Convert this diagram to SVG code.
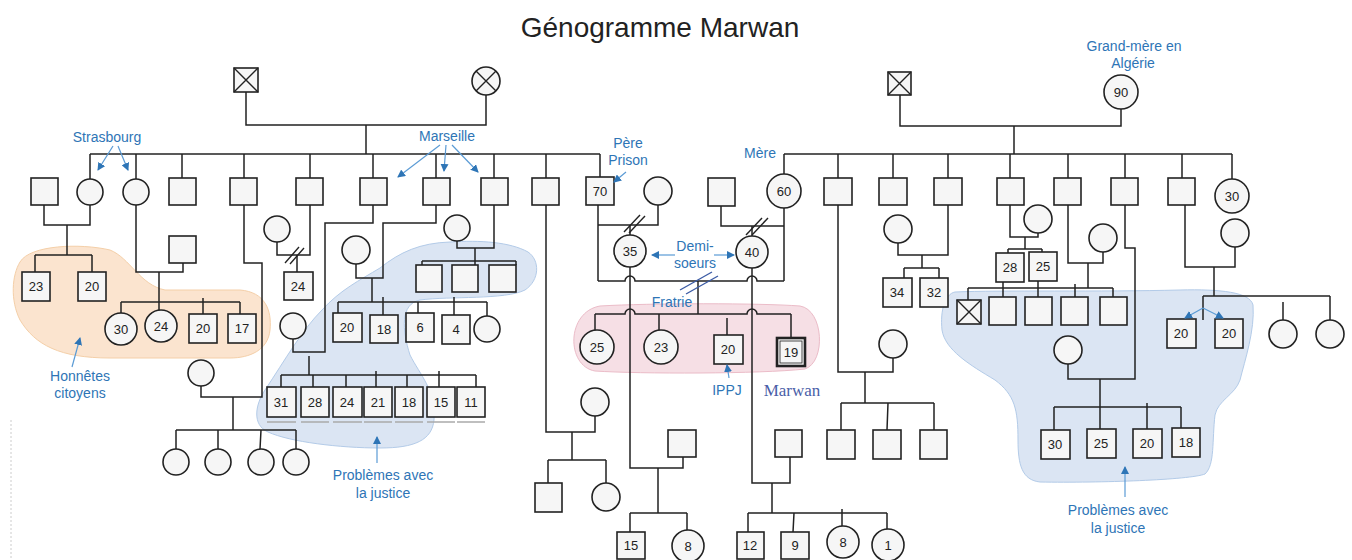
<svg xmlns="http://www.w3.org/2000/svg" width="1352" height="560" viewBox="0 0 1352 560">
<defs>
<style>
.ln{stroke:#222;stroke-width:1.5;fill:none}
.sq{fill:#f6f6f6;stroke:#222;stroke-width:1.6}
.ci{fill:#f6f6f6;stroke:#222;stroke-width:1.6}
.x{stroke:#222;stroke-width:1.4}
.n{font-family:"Liberation Sans",Arial,sans-serif;font-size:13px;fill:#222;text-anchor:middle}
.lb{font-family:"Liberation Sans",Arial,sans-serif;font-size:14px;fill:#2e75b6;text-anchor:middle}
.ar{stroke:#5b9bd5;stroke-width:1.2;fill:none;marker-end:url(#ah)}
.sl{stroke:#222;stroke-width:1.4}
.ul{stroke:#aaa;stroke-width:1.5}
</style>
<marker id="ah" viewBox="0 0 8 8" refX="7" refY="4" markerWidth="8" markerHeight="8" markerUnits="userSpaceOnUse" orient="auto">
<path d="M0,0 L8,4 L0,8 z" fill="#2e75b6"/>
</marker>
</defs>
<rect width="1352" height="560" fill="#ffffff"/>
<text x="660" y="37" font-family="Liberation Sans, Arial, sans-serif" font-size="28" fill="#222" text-anchor="middle">Génogramme Marwan</text>
<line x1="11" y1="420" x2="11" y2="560" stroke="#ccc" stroke-width="1" stroke-dasharray="2,2"/>

<g id="zones">
<path d="M20,262 C30,245 80,243 110,250 C130,258 140,285 165,290 L240,290 C265,292 272,310 270,330 C268,350 250,358 230,358 L110,358 C60,358 35,345 20,320 C10,300 12,275 20,262 Z" fill="#fbe4cf" stroke="#f4cfa8" stroke-width="1"/>
<path d="M380,268 C400,252 420,243 450,242 C480,240 510,242 528,252 C540,260 540,280 525,290 C505,300 450,296 420,300 C400,304 402,330 410,355 C420,375 436,390 434,420 C432,440 415,448 380,448 C340,448 290,442 268,432 C252,425 255,405 265,390 C285,360 302,330 322,310 C340,290 360,280 380,268 Z" fill="#dbe5f3" stroke="#b3cbe8" stroke-width="1"/>
<path d="M600,306 C650,303 760,303 800,306 C824,310 826,362 805,369 C760,374 640,374 595,371 C566,366 566,312 600,306 Z" fill="#f6dfe5" stroke="#ebbcc8" stroke-width="1"/>
<path d="M955,292 C1000,290 1100,292 1180,290 C1220,289 1250,292 1253,305 C1255,330 1245,360 1240,380 C1235,395 1218,400 1215,415 C1212,440 1215,465 1205,474 C1190,480 1100,483 1040,482 C1022,480 1018,465 1018,440 C1018,410 1015,395 995,380 C970,365 945,350 942,330 C940,310 945,294 955,292 Z" fill="#dbe5f3" stroke="#b3cbe8" stroke-width="1"/>
</g>

<g id="connectors">
<!-- paternal grandparents -->
<path class="ln" d="M246,92 V125 H486 V95"/>
<path class="ln" d="M366,125 V154"/>
<path class="ln" d="M90,154 H600"/>
<path class="ln" d="M90,154 V179 M136,154 V179 M182,154 V178 M244,154 V178 M310,154 V178 M373,154 V178 M436,154 V178 M494,154 V178 M546,154 V178 M600,154 V177"/>
<!-- P1 -->
<path class="ln" d="M44,205 V225 H90 V205 M67,225 V255 M35,255 H92 M35,255 V272 M92,255 V272"/>
<!-- P2 -->
<path class="ln" d="M136,205 V272 H183 V263 M159,272 V310 M121,302 H240 M121,302 V313 M203,298 V314 M240,302 V314"/>
<!-- P4 -->
<path class="ln" d="M244,205 V263 H262 V397 H201 V386 M233,397 V430 M176,430 H296 M176,430 V449 M218,430 V449 M261,430 L260,449 M296,430 V449"/>
<!-- P5 -->
<path class="ln" d="M310,205 V255 H277 V242 M297,255 V272"/>
<line class="sl" x1="285" y1="263" x2="299" y2="247"/>
<line class="sl" x1="290" y1="264" x2="304" y2="248"/>
<!-- P6 -->
<path class="ln" d="M373,205 V223 H325 V352 H293 V339 M309,356 V375 M281,375 H476 M281,375 V387 M313,375 V387 M346,375 V387 M376,371 V387 M407,375 V387 M439,371 V387 M476,375 V387"/>
<!-- P7 -->
<path class="ln" d="M436,205 V223 H383 V278 H356 V264 M372,278 V302 M338,302 H487 M338,302 V313 M383,297 V315 M418,302 V313 M454,297 V315 M487,302 V316"/>
<!-- P8 -->
<path class="ln" d="M494,205 V248 H457 V241 M475,248 V265 M422,261 H516 M422,261 V265 M516,261 V265"/>
<!-- P9 -->
<path class="ln" d="M546,205 V432 H595 V416 M572,432 V460 M548,460 H606 M548,460 V483 M606,460 V483"/>
<!-- father first marriage -->
<path class="ln" d="M598,205 V281 M598,225 H658 V205 M630,225 V235"/>
<line class="sl" x1="624" y1="232" x2="640" y2="215"/>
<line class="sl" x1="629" y1="233" x2="645" y2="216"/>
<!-- mother first marriage -->
<path class="ln" d="M721,206 V226 H784 M752,226 V236"/>
<line class="sl" x1="746" y1="235" x2="762" y2="218"/>
<line class="sl" x1="752" y1="235" x2="768" y2="218"/>
<!-- parents marriage -->
<path class="ln" d="M784,208 V281 M598,281 H625 A5,5 0 0 1 635,281 H747 A5,5 0 0 1 757,281 H784"/>
<path class="ln" d="M698,281 V314"/>
<line x1="680" y1="290" x2="712" y2="272" stroke="#3b5ba5" stroke-width="1.4"/>
<line x1="686" y1="294" x2="718" y2="276" stroke="#3b5ba5" stroke-width="1.4"/>
<!-- siblings of Marwan -->
<path class="ln" d="M595,314 H625 A5,5 0 0 1 635,314 H747 A5,5 0 0 1 757,314 H791 M595,314 V330 M659,314 V330 M727,318 V335 M791,314 V338"/>
<!-- half sister 35 -->
<path class="ln" d="M630,267 V468 H683 V457 M658,468 V513 M630,513 H687 M630,513 V532 M687,513 V530"/>
<!-- half sister 40 -->
<path class="ln" d="M752,268 V483 H790 V457 M772,483 V513 M748,513 H887 M748,513 V532 M794,513 L793,532 M842,509 V526 M887,513 V529"/>
<!-- maternal grandparents -->
<path class="ln" d="M900,95 V126 H1121 V109 M1014,126 V154"/>
<path class="ln" d="M784,154 H1232"/>
<path class="ln" d="M784,154 V174 M838,154 V178 M893,154 V178 M948,154 V178 M1010,154 V178 M1068,154 V178 M1125,154 V178 M1182,154 V178 M1232,154 V179"/>
<!-- M2 -->
<path class="ln" d="M838,205 V372 H893 V358 M865,372 V403 M841,403 H934 M841,403 V430 M888,403 L887,430 M934,403 V430"/>
<!-- M4 -->
<path class="ln" d="M948,205 V255 H898 V243 M922,255 V268 M904,268 H939 M904,268 V278 M939,268 V278"/>
<!-- M5 -->
<path class="ln" d="M1010,205 V237 H1038 V233 M1025,237 V249 M1008,249 H1042 M1008,249 V253 M1042,249 V252"/>
<!-- M6 -->
<path class="ln" d="M1068,205 V263 H1103 V252 M1088,263 V288 M968,288 H1113 M968,288 V300 M1003,282 V297 M1038,281 V297 M1075,284 V297 M1113,288 V297"/>
<!-- M7 -->
<path class="ln" d="M1125,205 V248 H1135 V379 H1068 V364 M1100,379 V429 M1054,407 H1181 M1054,407 V430 M1147,403 V429 M1181,407 V428"/>
<!-- M8 -->
<path class="ln" d="M1185,205 V267 H1235 V247 M1214,267 V296 M1203,296 H1330 M1203,296 V320 M1283,302 V320 M1330,296 V320"/>
</g>

<g id="nodes">
<g id="pgf"><rect class="sq" x="234" y="68" width="24" height="24"/><path class="x" d="M234,68 L258,92 M258,68 L234,92"/></g>
<g id="pgm"><circle class="ci" cx="486" cy="81" r="14"/><path class="x" d="M476,71 L496,91 M496,71 L476,91"/></g>
<g id="p1"><circle class="ci" cx="90" cy="192" r="13"/></g>
<g id="p1s"><rect class="sq" x="31" y="178" width="27" height="27"/></g>
<g id="p1c1"><rect class="sq" x="22" y="272" width="28" height="29"/><text class="n" x="36" y="291">23</text></g>
<g id="p1c2"><rect class="sq" x="78" y="272" width="28" height="29"/><text class="n" x="92" y="291">20</text></g>
<g id="p2"><circle class="ci" cx="136" cy="192" r="13"/></g>
<g id="p2s"><rect class="sq" x="169" y="236" width="27" height="27"/></g>
<g id="p2c1"><circle class="ci" cx="121" cy="329" r="16"/><text class="n" x="121" y="334">30</text></g>
<g id="p2c2"><circle class="ci" cx="161" cy="326" r="16"/><text class="n" x="161" y="331">24</text></g>
<g id="p2c3"><rect class="sq" x="189" y="314" width="28" height="29"/><text class="n" x="203" y="333">20</text></g>
<g id="p2c4"><rect class="sq" x="228" y="314" width="28" height="29"/><text class="n" x="242" y="333">17</text></g>
<g id="p3"><rect class="sq" x="169" y="178" width="27" height="27"/></g>
<g id="p4"><rect class="sq" x="230" y="178" width="27" height="27"/></g>
<g id="p4s"><circle class="ci" cx="201" cy="373" r="13"/></g>
<g id="p4c1"><circle class="ci" cx="176" cy="462" r="13"/></g>
<g id="p4c2"><circle class="ci" cx="218" cy="462" r="13"/></g>
<g id="p4c3"><circle class="ci" cx="261" cy="462" r="13"/></g>
<g id="p4c4"><circle class="ci" cx="296" cy="462" r="13"/></g>
<g id="p5"><rect class="sq" x="296" y="178" width="27" height="27"/></g>
<g id="p5s"><circle class="ci" cx="277" cy="229" r="13"/></g>
<g id="p5c"><rect class="sq" x="284" y="272" width="29" height="28"/><text class="n" x="298" y="291">24</text></g>
<g id="p6"><rect class="sq" x="360" y="178" width="27" height="27"/></g>
<g id="p6s"><circle class="ci" cx="293" cy="326" r="13"/></g>
<g id="p6c1"><rect class="sq" x="267" y="387" width="29" height="30"/><text class="n" x="281" y="407">31</text></g>
<g id="p6c2"><rect class="sq" x="301" y="387" width="28" height="30"/><text class="n" x="315" y="407">28</text></g>
<g id="p6c3"><rect class="sq" x="333" y="387" width="29" height="30"/><text class="n" x="347" y="407">24</text></g>
<g id="p6c4"><rect class="sq" x="364" y="387" width="28" height="30"/><text class="n" x="378" y="407">21</text></g>
<g id="p6c5"><rect class="sq" x="395" y="387" width="28" height="30"/><text class="n" x="409" y="407">18</text></g>
<g id="p6c6"><rect class="sq" x="427" y="387" width="28" height="30"/><text class="n" x="441" y="407">15</text></g>
<g id="p6c7"><rect class="sq" x="457" y="387" width="28" height="30"/><text class="n" x="471" y="407">11</text></g>
<path class="ul" d="M267,422 H296 M301,422 H329 M333,422 H362 M364,422 H392 M395,422 H423 M427,422 H455 M457,422 H485"/>
<g id="p7"><rect class="sq" x="423" y="178" width="27" height="27"/></g>
<g id="p7s"><circle class="ci" cx="356" cy="250" r="14"/></g>
<g id="p7c1"><rect class="sq" x="333" y="313" width="29" height="29"/><text class="n" x="347" y="332">20</text></g>
<g id="p7c2"><rect class="sq" x="370" y="315" width="28" height="28"/><text class="n" x="384" y="334">18</text></g>
<g id="p7c3"><rect class="sq" x="406" y="313" width="28" height="29"/><text class="n" x="420" y="332">6</text></g>
<g id="p7c4"><rect class="sq" x="442" y="315" width="28" height="29"/><text class="n" x="456" y="334">4</text></g>
<g id="p7c5"><circle class="ci" cx="487" cy="329" r="13"/></g>
<g id="p8"><rect class="sq" x="481" y="178" width="27" height="27"/></g>
<g id="p8s"><circle class="ci" cx="457" cy="228" r="13"/></g>
<g id="p8c1"><rect class="sq" x="416" y="265" width="26" height="27"/></g>
<g id="p8c2"><rect class="sq" x="452" y="265" width="26" height="27"/></g>
<g id="p8c3"><rect class="sq" x="489" y="265" width="27" height="27"/></g>
<g id="p9"><rect class="sq" x="532" y="178" width="27" height="27"/></g>
<g id="p9s"><circle class="ci" cx="595" cy="402" r="14"/></g>
<g id="p9c1"><rect class="sq" x="535" y="483" width="27" height="29"/></g>
<g id="p9c2"><circle class="ci" cx="606" cy="497" r="14"/></g>
<g id="father"><rect class="sq" x="586" y="177" width="28" height="28"/><text class="n" x="600" y="196">70</text></g>
<g id="father-w1"><circle class="ci" cx="658" cy="191" r="14"/></g>
<g id="hs35"><circle class="ci" cx="630" cy="251" r="16"/><text class="n" x="630" y="256">35</text></g>
<g id="hs35h"><rect class="sq" x="668" y="430" width="28" height="27"/></g>
<g id="hs35c1"><rect class="sq" x="617" y="532" width="28" height="27"/><text class="n" x="631" y="550">15</text></g>
<g id="hs35c2"><circle class="ci" cx="688" cy="546" r="16"/><text class="n" x="688" y="551">8</text></g>
<g id="mother-h1"><rect class="sq" x="708" y="178" width="27" height="28"/></g>
<g id="mother"><circle class="ci" cx="784" cy="191" r="17"/><text class="n" x="784" y="196">60</text></g>
<g id="hs40"><circle class="ci" cx="752" cy="252" r="16"/><text class="n" x="752" y="257">40</text></g>
<g id="hs40h"><rect class="sq" x="775" y="430" width="27" height="27"/></g>
<g id="hs40c1"><rect class="sq" x="737" y="532" width="27" height="27"/><text class="n" x="750" y="550">12</text></g>
<g id="hs40c2"><rect class="sq" x="781" y="532" width="28" height="27"/><text class="n" x="795" y="550">9</text></g>
<g id="hs40c3"><circle class="ci" cx="843" cy="542" r="16"/><text class="n" x="843" y="547">8</text></g>
<g id="hs40c4"><circle class="ci" cx="888" cy="545" r="16"/><text class="n" x="888" y="550">1</text></g>
<g id="sib25"><circle class="ci" cx="597" cy="347" r="17"/><text class="n" x="597" y="352">25</text></g>
<g id="sib23"><circle class="ci" cx="661" cy="347" r="17"/><text class="n" x="661" y="352">23</text></g>
<g id="sib20"><rect class="sq" x="714" y="335" width="29" height="29"/><text class="n" x="728" y="354">20</text></g>
<g id="marwan"><rect x="777" y="338" width="28" height="28" fill="#f6f6f6" stroke="#222" stroke-width="2.6"/><rect x="780" y="341" width="22" height="22" fill="none" stroke="#222" stroke-width="0.8"/><text class="n" x="791" y="357">19</text></g>
<g id="mgf"><rect class="sq" x="888" y="72" width="23" height="23"/><path class="x" d="M888,72 L911,95 M911,72 L888,95"/></g>
<g id="mgm"><circle class="ci" cx="1121" cy="92" r="17"/><text class="n" x="1121" y="97">90</text></g>
<g id="m2"><rect class="sq" x="824" y="178" width="28" height="27"/></g>
<g id="m2s"><circle class="ci" cx="893" cy="344" r="14"/></g>
<g id="m2c1"><rect class="sq" x="827" y="430" width="28" height="29"/></g>
<g id="m2c2"><rect class="sq" x="873" y="430" width="28" height="29"/></g>
<g id="m2c3"><rect class="sq" x="920" y="430" width="27" height="29"/></g>
<g id="m3"><rect class="sq" x="879" y="178" width="28" height="27"/></g>
<g id="m4"><rect class="sq" x="934" y="178" width="28" height="27"/></g>
<g id="m4s"><circle class="ci" cx="898" cy="229" r="14"/></g>
<g id="m4c1"><rect class="sq" x="883" y="278" width="29" height="29"/><text class="n" x="897" y="297">34</text></g>
<g id="m4c2"><rect class="sq" x="920" y="278" width="28" height="29"/><text class="n" x="934" y="297">32</text></g>
<g id="m5"><rect class="sq" x="997" y="178" width="27" height="27"/></g>
<g id="m5s"><circle class="ci" cx="1038" cy="219" r="14"/></g>
<g id="m5c1"><rect class="sq" x="996" y="253" width="28" height="29"/><text class="n" x="1010" y="272">28</text></g>
<g id="m5c2"><rect class="sq" x="1029" y="252" width="28" height="29"/><text class="n" x="1043" y="271">25</text></g>
<g id="m6"><rect class="sq" x="1054" y="178" width="27" height="27"/></g>
<g id="m6s"><circle class="ci" cx="1103" cy="238" r="14"/></g>
<g id="m6c1"><rect class="sq" x="957" y="300" width="24" height="24"/><path class="x" d="M957,300 L981,324 M981,300 L957,324"/></g>
<g id="m6c2"><rect class="sq" x="989" y="297" width="27" height="28"/></g>
<g id="m6c3"><rect class="sq" x="1025" y="297" width="27" height="28"/></g>
<g id="m6c4"><rect class="sq" x="1061" y="297" width="27" height="28"/></g>
<g id="m6c5"><rect class="sq" x="1100" y="297" width="27" height="28"/></g>
<g id="m7"><rect class="sq" x="1111" y="178" width="27" height="27"/></g>
<g id="m7s"><circle class="ci" cx="1068" cy="350" r="14"/></g>
<g id="m7c1"><rect class="sq" x="1041" y="430" width="29" height="29"/><text class="n" x="1055" y="449">30</text></g>
<g id="m7c2"><rect class="sq" x="1087" y="429" width="29" height="29"/><text class="n" x="1101" y="448">25</text></g>
<g id="m7c3"><rect class="sq" x="1133" y="429" width="29" height="29"/><text class="n" x="1147" y="448">20</text></g>
<g id="m7c4"><rect class="sq" x="1172" y="428" width="28" height="29"/><text class="n" x="1186" y="447">18</text></g>
<g id="m8"><rect class="sq" x="1168" y="178" width="27" height="27"/></g>
<g id="m8s"><circle class="ci" cx="1235" cy="233" r="14"/></g>
<g id="m8c1"><rect class="sq" x="1167" y="319" width="29" height="29"/><text class="n" x="1181" y="338">20</text></g>
<g id="m8c2"><rect class="sq" x="1215" y="319" width="28" height="29"/><text class="n" x="1229" y="338">20</text></g>
<g id="m8c3"><circle class="ci" cx="1283" cy="334" r="14"/></g>
<g id="m8c4"><circle class="ci" cx="1330" cy="334" r="14"/></g>
<g id="m9"><circle class="ci" cx="1232" cy="196" r="17"/><text class="n" x="1232" y="201">30</text></g>
</g>

<g id="labels">
<text class="lb" x="107" y="142">Strasbourg</text>
<text class="lb" x="447" y="141">Marseille</text>
<text class="lb" x="628" y="148">Père</text>
<text class="lb" x="628" y="165">Prison</text>
<text class="lb" x="760" y="158">Mère</text>
<text class="lb" x="695" y="251">Demi-</text>
<text class="lb" x="695" y="268">soeurs</text>
<text class="lb" x="672" y="307">Fratrie</text>
<text class="lb" x="727" y="395">IPPJ</text>
<text x="792" y="396" font-family="Liberation Serif, Times New Roman, serif" font-size="17" fill="#4a5ea8" text-anchor="middle">Marwan</text>
<text class="lb" x="80" y="381">Honnêtes</text>
<text class="lb" x="80" y="398">citoyens</text>
<text class="lb" x="383" y="480">Problèmes avec</text>
<text class="lb" x="383" y="498">la justice</text>
<text class="lb" x="1118" y="515">Problèmes avec</text>
<text class="lb" x="1118" y="533">la justice</text>
<text class="lb" x="1134" y="51">Grand-mère en</text>
<text class="lb" x="1133" y="68">Algérie</text>
</g>

<g id="annotation-arrows">
<line class="ar" x1="113" y1="146" x2="98" y2="170"/>
<line class="ar" x1="118" y1="146" x2="128" y2="170"/>
<line class="ar" x1="440" y1="145" x2="398" y2="177"/>
<line class="ar" x1="446" y1="145" x2="444" y2="171"/>
<line class="ar" x1="452" y1="145" x2="478" y2="172"/>
<line class="ar" x1="626" y1="172" x2="614" y2="182"/>
<line class="ar" x1="675" y1="255" x2="652" y2="255"/>
<line class="ar" x1="714" y1="255" x2="734" y2="255"/>
<line class="ar" x1="72" y1="367" x2="80" y2="338"/>
<line class="ar" x1="729" y1="378" x2="727" y2="365"/>
<line class="ar" x1="377" y1="463" x2="377" y2="437"/>
<line class="ar" x1="1125" y1="497" x2="1125" y2="467"/>
<line class="ar" x1="1203" y1="308" x2="1185" y2="318"/>
<line class="ar" x1="1203" y1="308" x2="1223" y2="318"/>
</g>
</svg>
